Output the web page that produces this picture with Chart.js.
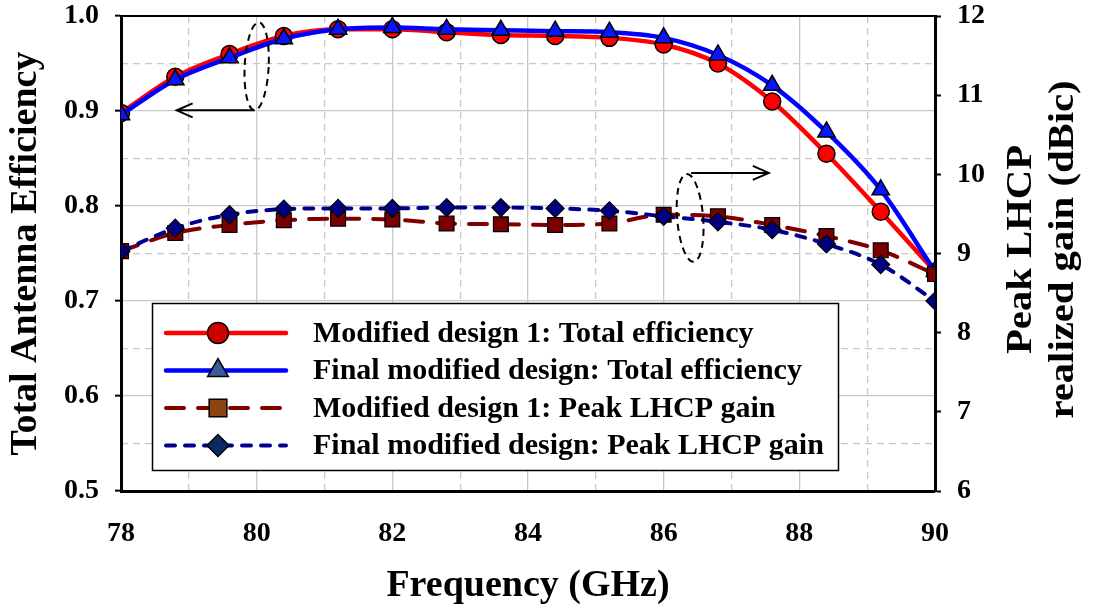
<!DOCTYPE html>
<html>
<head>
<meta charset="utf-8">
<script src="https://cdn.jsdelivr.net/npm/chart.js@4.4.1/dist/chart.umd.min.js"></script>
<style>
  html, body { margin: 0; padding: 0; background: #fff; }
  #wrap { width: 1094px; height: 611px; }
</style>
</head>
<body>
<div id="wrap"><canvas id="grafico" width="1094" height="611"></canvas></div>
<script>
const FONT = "'Liberation Serif', 'Times New Roman', serif";

// data
const freq = [78, 78.8, 79.6, 80.4, 81.2, 82, 82.8, 83.6, 84.4, 85.2, 86, 86.8, 87.6, 88.4, 89.2, 90];
const effMod1 = [0.898, 0.936, 0.960, 0.979, 0.986, 0.986, 0.983, 0.980, 0.979, 0.977, 0.970, 0.950, 0.910, 0.855, 0.794, 0.731];
const effFinal = [0.896, 0.933, 0.956, 0.976, 0.986, 0.988, 0.986, 0.985, 0.984, 0.983, 0.977, 0.959, 0.927, 0.878, 0.817, 0.731];
const gainMod1 = [9.03, 9.26, 9.36, 9.42, 9.44, 9.43, 9.38, 9.37, 9.36, 9.38, 9.49, 9.47, 9.36, 9.22, 9.04, 8.74];
const gainFinal = [9.03, 9.32, 9.49, 9.56, 9.57, 9.57, 9.58, 9.58, 9.57, 9.54, 9.47, 9.40, 9.30, 9.12, 8.86, 8.40];

const labels = [
  'Modified design 1: Total efficiency',
  'Final modified design: Total efficiency',
  'Modified design 1: Peak LHCP gain',
  'Final modified design: Peak LHCP gain'
];

const xTicks = [78, 80, 82, 84, 86, 88, 90];
const xMinorTicks = [79, 81, 83, 85, 87, 89];
const yTicks = [0.5, 0.6, 0.7, 0.8, 0.9, 1.0];
const yMinorTicks = [0.55, 0.65, 0.75, 0.85, 0.95];
const y2Ticks = [6, 7, 8, 9, 10, 11, 12];

const legendFill = ['#cc0000', '#3a5c9e', '#8b4513', '#0d2a66'];

function pts(ys) {
  return freq.map((f, i) => ({ x: f, y: ys[i] }));
}
function useTicks(list) {
  return scale => { scale.ticks = list.map(v => ({ value: v })); };
}
// fixed box size, no extra edge padding from the tick labels
function fixSize(w, h) {
  return s => {
    if (w !== null) s.width = w;
    if (h !== null) s.height = h;
    s.paddingTop = 0; s.paddingBottom = 0;
    s.paddingLeft = 0; s.paddingRight = 0;
  };
}

const tickFont = { family: FONT, size: 28, weight: 'bold', lineHeight: 1.1 };
const titleFont = { family: FONT, size: 38, weight: 'bold' };
const GRID = '#c8c8c8';

const decor = {
  id: 'decor',
  beforeDraw(chart) {
    const ctx = chart.ctx;
    ctx.save();
    ctx.fillStyle = '#fff';
    ctx.fillRect(0, 0, chart.width, chart.height);
    ctx.restore();
  },
  afterDraw(chart) {
    const ctx = chart.ctx;
    const a = chart.chartArea;
    const sx = chart.scales.x, sy = chart.scales.y, sy2 = chart.scales.y2;

    ctx.save();
    // top frame line
    ctx.strokeStyle = '#000';
    ctx.lineWidth = 2;
    ctx.beginPath();
    ctx.moveTo(a.left, a.top);
    ctx.lineTo(a.right, a.top);
    ctx.stroke();

    // right axis title (reads bottom to top, two lines)
    ctx.fillStyle = '#000';
    ctx.font = 'bold 36px ' + FONT;
    ctx.textAlign = 'center';
    ctx.textBaseline = 'middle';
    const mid = (a.top + a.bottom) / 2 - 4;
    [['Peak LHCP', 1022], ['realized gain (dBic)', 1064]].forEach(([t, x]) => {
      ctx.save();
      ctx.translate(x, mid);
      ctx.rotate(-Math.PI / 2);
      ctx.scale(1.13, 1);
      ctx.fillText(t, 0, 0);
      ctx.restore();
    });

    // dashed ellipses + arrows
    ctx.lineWidth = 2;
    ctx.strokeStyle = '#000';
    const e1x = sx.getPixelForValue(80), e1y = sy.getPixelForValue(0.947);
    ctx.setLineDash([7, 5]);
    ctx.beginPath();
    ctx.ellipse(e1x, e1y, 12, 44, 0.05, 0, Math.PI * 2);
    ctx.stroke();
    const e2x = sx.getPixelForValue(86.39), e2y = sy2.getPixelForValue(9.45);
    ctx.beginPath();
    ctx.ellipse(e2x, e2y, 13, 44, -0.08, 0, Math.PI * 2);
    ctx.stroke();
    ctx.setLineDash([]);

    function arrow(x0, y0, x1, y1) {
      ctx.beginPath();
      ctx.moveTo(x0, y0);
      ctx.lineTo(x1, y1);
      const dir = Math.sign(x1 - x0);
      ctx.moveTo(x1 - dir * 16, y1 - 7);
      ctx.lineTo(x1, y1);
      ctx.lineTo(x1 - dir * 16, y1 + 7);
      ctx.stroke();
    }
    arrow(e1x - 2, e1y + 44, sx.getPixelForValue(78.82), e1y + 44);
    arrow(e2x + 1, e2y - 45, sx.getPixelForValue(87.55), e2y - 45);

    // legend box
    const bx = 152, by = 303, bw = 686, bh = 167;
    ctx.fillStyle = '#fff';
    ctx.fillRect(bx, by, bw, bh);
    ctx.lineWidth = 1.5;
    ctx.strokeRect(bx + 0.5, by + 0.5, bw, bh);

    chart.data.datasets.forEach((ds, i) => {
      const yy = 333 + i * 37.5;
      ctx.save();
      ctx.strokeStyle = ds.borderColor;
      ctx.lineWidth = ds.borderWidth;
      ctx.lineCap = 'round';
      ctx.setLineDash(ds.borderDash || []);
      ctx.beginPath();
      ctx.moveTo(166, yy);
      ctx.lineTo(286, yy);
      ctx.stroke();
      ctx.restore();

      ctx.save();
      ctx.fillStyle = legendFill[i];
      ctx.strokeStyle = '#000';
      ctx.lineWidth = 1.5;
      Chart.helpers.drawPoint(ctx, {
        pointStyle: ds.pointStyle, rotation: 0,
        radius: ds.pointRadius + 2, borderWidth: 1.5
      }, 218, yy);
      ctx.restore();

      ctx.fillStyle = '#000';
      ctx.font = 'bold 30px ' + FONT;
      ctx.textAlign = 'left';
      ctx.textBaseline = 'middle';
      ctx.fillText(labels[i], 313, yy + 1);
    });
    ctx.restore();
  }
};

const ctx = document.getElementById('grafico');

const chart = new Chart(ctx, {
  type: 'line',
  data: {
    datasets: [{
      label: labels[0],
      data: pts(effMod1),
      yAxisID: 'y',
      borderColor: '#ff0000',
      borderWidth: 4.5,
      pointStyle: 'circle',
      pointRadius: 8.5,
      pointBackgroundColor: '#ff0000',
      pointBorderColor: '#000',
      pointBorderWidth: 1.5,
      cubicInterpolationMode: 'monotone',
      order: 4
    }, {
      label: labels[1],
      data: pts(effFinal),
      yAxisID: 'y',
      borderColor: '#0000ff',
      borderWidth: 4.5,
      pointStyle: 'triangle',
      pointRadius: 10,
      pointBackgroundColor: '#0a14ff',
      pointBorderColor: '#000',
      pointBorderWidth: 1.5,
      cubicInterpolationMode: 'monotone',
      order: 3
    }, {
      label: labels[2],
      data: pts(gainMod1),
      yAxisID: 'y2',
      borderColor: '#800000',
      borderWidth: 4,
      borderDash: [18, 14],
      borderCapStyle: 'round',
      pointStyle: 'rect',
      pointRadius: 10.5,
      pointBackgroundColor: '#7a0000',
      pointBorderColor: '#000',
      pointBorderWidth: 1.2,
      cubicInterpolationMode: 'monotone',
      order: 2
    }, {
      label: labels[3],
      data: pts(gainFinal),
      yAxisID: 'y2',
      borderColor: '#000090',
      borderWidth: 4,
      borderDash: [9, 10],
      borderCapStyle: 'round',
      pointStyle: 'rectRot',
      pointRadius: 9,
      pointBackgroundColor: '#000080',
      pointBorderColor: '#000',
      pointBorderWidth: 1.2,
      cubicInterpolationMode: 'monotone',
      order: 1
    }]
  },
  options: {
    responsive: false,
    animation: false,
    devicePixelRatio: 1,
    layout: { padding: { top: 16, left: 0, right: 0, bottom: 0 } },
    plugins: {
      legend: { display: false },
      tooltip: { enabled: false }
    },
    scales: {
      x: {
        type: 'linear',
        position: 'bottom',
        min: 78, max: 90,
        afterBuildTicks: useTicks(xTicks),
        ticks: { font: tickFont, color: '#000', padding: 27, callback: v => v },
        grid: { color: GRID, lineWidth: 1.3, drawTicks: false },
        border: { color: '#000', width: 3 },
        title: { display: true, text: 'Frequency (GHz)', font: titleFont, color: '#000', padding: { top: 0, bottom: 2 } },
        afterFit: fixSize(null, 120)
      },
      xMinor: {
        type: 'linear',
        position: 'bottom',
        min: 78, max: 90,
        afterBuildTicks: useTicks(xMinorTicks),
        ticks: { display: false },
        grid: { color: GRID, lineWidth: 1.3, drawTicks: false },
        border: { display: false, dash: [7, 5] },
        afterFit: fixSize(null, 0)
      },
      y: {
        type: 'linear',
        position: 'left',
        min: 0.5, max: 1.0,
        afterBuildTicks: useTicks(yTicks),
        ticks: { font: tickFont, color: '#000', padding: 16, callback: v => v.toFixed(1) },
        grid: { color: GRID, lineWidth: 1.3, tickColor: '#000', tickLength: 6, tickWidth: 2 },
        border: { color: '#000', width: 3 },
        title: { display: true, text: 'Total Antenna Efficiency', font: titleFont, color: '#000', padding: { top: 3, bottom: 0 } },
        afterFit: fixSize(121, null)
      },
      yMinor: {
        type: 'linear',
        position: 'left',
        min: 0.5, max: 1.0,
        afterBuildTicks: useTicks(yMinorTicks),
        ticks: { display: false },
        grid: { color: GRID, lineWidth: 1.3, drawTicks: false },
        border: { display: false, dash: [7, 5] },
        afterFit: fixSize(0, null)
      },
      y2: {
        type: 'linear',
        position: 'right',
        min: 6, max: 12,
        afterBuildTicks: useTicks(y2Ticks),
        ticks: { font: tickFont, color: '#000', padding: 16 },
        grid: { drawOnChartArea: false, tickColor: '#000', tickLength: 6, tickWidth: 2 },
        border: { color: '#000', width: 3 },
        afterFit: fixSize(159, null)
      }
    }
  },
  plugins: [decor]
});
</script>
</body>
</html>
